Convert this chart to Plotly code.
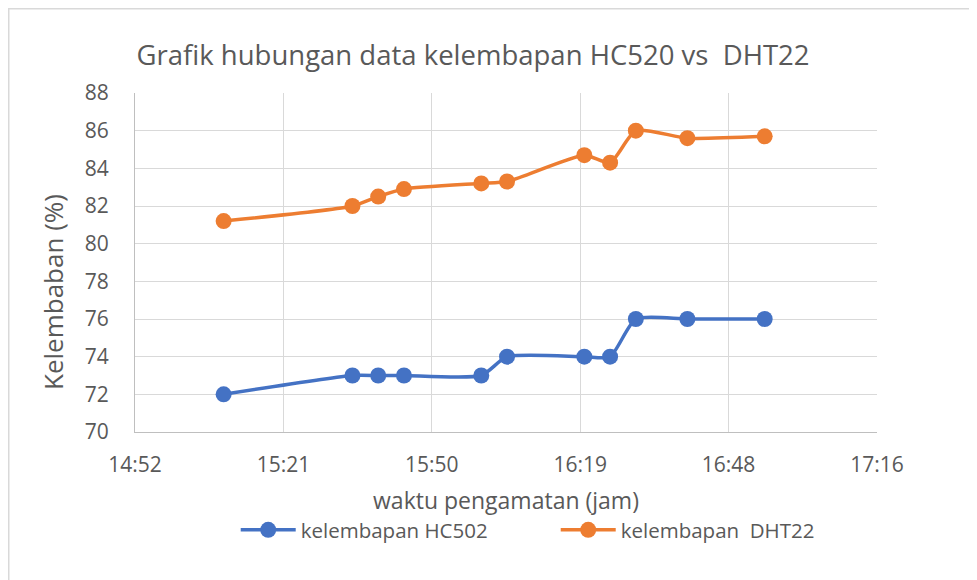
import plotly.graph_objects as go

times = ["15:10", "15:35", "15:40", "15:45", "16:00", "16:05",
         "16:20", "16:25", "16:30", "16:40", "16:55"]
hc502 = [72, 73, 73, 73, 73, 74, 74, 74, 76, 76, 76]
dht22 = [81.2, 82.0, 82.5, 82.9, 83.2, 83.3, 84.7, 84.3, 86.0, 85.6, 85.7]

tick_vals = ["14:52:48", "15:21:36", "15:50:24", "16:19:12", "16:48:00", "17:16:48"]
tick_text = ["14:52", "15:21", "15:50", "16:19", "16:48", "17:16"]

day = "2024-01-01 "
x = [day + t for t in times]

font_name = "Open Sans"
grey = "#595959"

fig = go.Figure()
fig.add_trace(go.Scatter(
    x=x, y=hc502, name="kelembapan HC502", mode="lines+markers",
    line=dict(color="#4472C4", width=3.5, shape="spline", smoothing=0.6),
    marker=dict(size=16, color="#4472C4"),
))
fig.add_trace(go.Scatter(
    x=x, y=dht22, name="kelembapan  DHT22", mode="lines+markers",
    line=dict(color="#ED7D31", width=3.5, shape="spline", smoothing=0.6),
    marker=dict(size=16, color="#ED7D31"),
))

fig.update_layout(
    width=977, height=580,
    paper_bgcolor="white", plot_bgcolor="white",
    margin=dict(l=127, r=108, t=85, b=156),
    font=dict(family=font_name, color=grey, size=18),
    title=dict(text="Grafik hubungan data kelembapan HC520 vs  DHT22",
               x=0.476, xanchor="center", y=0.919, yanchor="middle",
               font=dict(size=27.5, color=grey, family=font_name)),
    xaxis=dict(
        type="date",
        range=[day + tick_vals[0], day + tick_vals[-1]],
        tickvals=[day + t for t in tick_vals], ticktext=tick_text,
        showgrid=True, gridcolor="#d9d9d9", gridwidth=1,
        showline=True, linecolor="#bfbfbf", linewidth=1,
        ticks="", ticklabelstandoff=14,
        tickfont=dict(size=21, color=grey),
        title=dict(text="waktu pengamatan (jam)", font=dict(size=23, color=grey), standoff=15),
        zeroline=False,
    ),
    yaxis=dict(
        range=[70, 88], dtick=2, tick0=70,
        showgrid=True, gridcolor="#d9d9d9", gridwidth=1,
        showline=True, linecolor="#bfbfbf", linewidth=1,
        ticks="", ticklabelstandoff=21,
        tickfont=dict(size=21, color=grey),
        zeroline=False,
    ),
    legend=dict(orientation="h", x=0.567, xanchor="center", y=-0.289, yanchor="middle",
                font=dict(size=20.5, color=grey), itemwidth=55,
                entrywidthmode="pixels", entrywidth=250),
    showlegend=True,
)

# y-axis title placed as a rotated annotation (sits below plot centre in the original)
fig.add_annotation(text="Kelembaban (%)", xref="paper", yref="paper",
                   x=-0.1105, y=0.413, xanchor="center", yanchor="middle",
                   textangle=-90, showarrow=False,
                   font=dict(size=26, color=grey, family=font_name))

# outer chart border (top and left edges)
fig.add_shape(type="line", xref="paper", yref="paper",
              x0=-126.5/742, x1=(977 - 127)/742, y0=(85 + 339 - 0.5)/339, y1=(85 + 339 - 0.5)/339,
              line=dict(color="#d9d9d9", width=2))
fig.add_shape(type="line", xref="paper", yref="paper",
              x0=-126.5/742, x1=-126.5/742, y0=-156/339, y1=(85 + 339)/339,
              line=dict(color="#d9d9d9", width=2))

fig.write_html("out.html")
